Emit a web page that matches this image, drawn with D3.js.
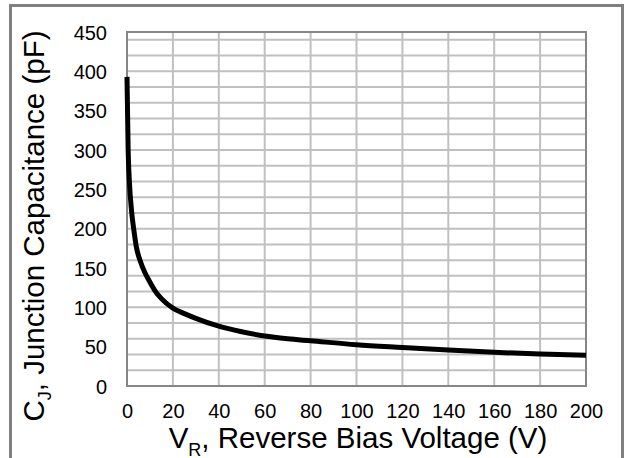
<!DOCTYPE html>
<html><head><meta charset="utf-8">
<script src="https://cdn.jsdelivr.net/npm/d3@7"></script>
<style>html,body{margin:0;padding:0;background:#fff;}svg{display:block;}</style>
</head><body>
<svg id="c" width="626" height="458"></svg>
<script>
// Reverse bias voltage (V) and junction capacitance (pF)
const voltage = [0, 0.5, 1, 2, 3, 4, 6, 8, 10, 12, 15, 20, 25, 30, 40, 50, 60, 70, 80, 100, 120, 140, 160, 180, 200];
const capacitance = [393, 300, 262, 222, 198, 178, 157, 143, 132, 122, 111, 99, 92, 86, 76, 69, 63.5, 60, 57.5, 52.5, 49, 45.7, 42.8, 40.6, 39];
const xTicks = [0, 20, 40, 60, 80, 100, 120, 140, 160, 180, 200];
const yTicks = [0, 50, 100, 150, 200, 250, 300, 350, 400, 450];
const yGrid = d3.range(0, 450, 20);
const xTitle = ["V", "R", ", Reverse Bias Voltage (V)"];
const yTitle = ["C", "J", ", Junction Capacitance (pF)"];

const svg = d3.select("#c");
const font = "'Liberation Sans', Arial, sans-serif";
const L = 127, R = 586, T = 32, B = 386;
const x = d3.scaleLinear().domain([0, 200]).range([L, R]);
const y = d3.scaleLinear().domain([0, 450]).range([B, T]);

// outer frame
svg.append("rect").attr("x", 10.5).attr("y", 5.5).attr("width", 612).attr("height", 470)
  .attr("fill", "none").attr("stroke", "#808080").attr("stroke-width", 3);

// gridlines
svg.append("g").selectAll("line").data(yGrid).join("line")
  .attr("x1", L).attr("x2", R).attr("y1", d => y(d)).attr("y2", d => y(d))
  .attr("stroke", "#c0c0c0").attr("stroke-width", 2);
svg.append("g").selectAll("line").data(xTicks).join("line")
  .attr("x1", d => x(d)).attr("x2", d => x(d)).attr("y1", T).attr("y2", B)
  .attr("stroke", "#c0c0c0").attr("stroke-width", 2);

// plot frame
svg.append("rect").attr("x", L).attr("y", T).attr("width", R - L).attr("height", B - T)
  .attr("fill", "none").attr("stroke", "#868686").attr("stroke-width", 2);

// axes (labels only)
const xAxis = svg.append("g").attr("transform", `translate(0,${B})`)
  .call(d3.axisBottom(x).tickValues(xTicks).tickSize(0).tickPadding(0).tickFormat(d3.format("d")));
xAxis.select(".domain").remove();
xAxis.selectAll("text").attr("font-family", font).attr("font-size", 20).attr("fill", "#000")
  .attr("y", 32).attr("dy", 0);

const yAxis = svg.append("g").attr("transform", `translate(${L},0)`)
  .call(d3.axisLeft(y).tickValues(yTicks).tickSize(0).tickPadding(0).tickFormat(d3.format("d")));
yAxis.select(".domain").remove();
yAxis.selectAll("text").attr("font-family", font).attr("font-size", 20).attr("fill", "#000")
  .attr("x", -20).attr("dy", 7.2);

// curve
const line = d3.line().x((d, i) => x(voltage[i])).y(d => y(d)).curve(d3.curveMonotoneX);
svg.append("path").datum(capacitance).attr("d", line)
  .attr("fill", "none").attr("stroke", "#000").attr("stroke-width", 5).attr("stroke-linejoin", "round");

// titles
function title(parts, tx, ty, rot) {
  const t = svg.append("text").attr("transform", `translate(${tx},${ty}) rotate(${rot})`)
    .attr("text-anchor", "middle").attr("font-family", font).attr("font-size", 29.5).attr("fill", "#000");
  t.append("tspan").text(parts[0]);
  t.append("tspan").attr("font-size", 18).attr("dy", 7.5).text(parts[1]);
  t.append("tspan").attr("dy", -7.5).text(parts[2]);
}
title(xTitle, 358, 448, 0);
title(yTitle, 43.5, 226, -90);
</script>
</body></html>
